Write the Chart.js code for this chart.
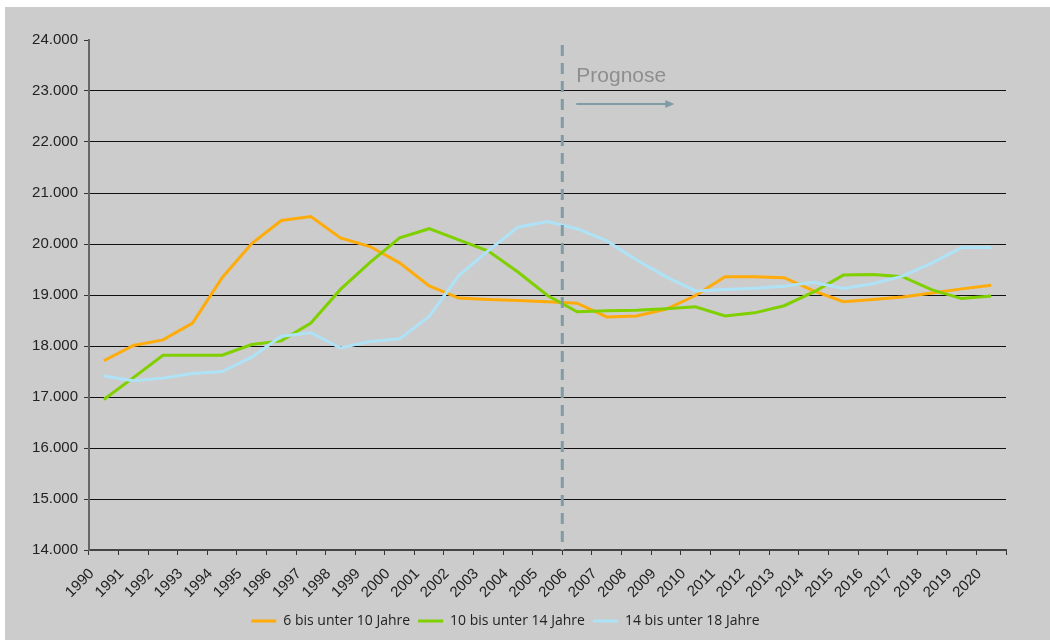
<!DOCTYPE html>
<html lang="de">

<head>
    <meta charset="UTF-8">
    <title>Bevölkerung 6 bis unter 18 Jahre - Prognose</title>
    <style>
        html, body { margin: 0; padding: 0; background: #ffffff; }
        .chart-box {
            position: absolute;
            left: 5px;
            top: 7px;
            width: 1045px;
            height: 633px;
            background: #cccccc;
        }
    </style>
</head>

<body>
    <div class="chart-box">
        <canvas id="myChart" width="1045" height="633"></canvas>
    </div>

    <script src="https://cdn.jsdelivr.net/npm/chart.js"></script>

    <script>
        var years = ["1990", "1991", "1992", "1993", "1994", "1995", "1996", "1997", "1998", "1999",
            "2000", "2001", "2002", "2003", "2004", "2005", "2006", "2007", "2008", "2009",
            "2010", "2011", "2012", "2013", "2014", "2015", "2016", "2017", "2018", "2019", "2020"];

        var age6to10 = [17710, 18010, 18120, 18450, 19340, 20010, 20460, 20540, 20120, 19950,
            19630, 19180, 18940, 18910, 18890, 18870, 18840, 18570, 18590, 18720,
            18990, 19360, 19360, 19340, 19080, 18870, 18910, 18960, 19040, 19120, 19190];

        var age10to14 = [16950, 17380, 17820, 17820, 17820, 18030, 18100, 18450, 19110, 19640,
            20120, 20300, 20080, 19860, 19450, 18990, 18670, 18690, 18700, 18730,
            18770, 18590, 18650, 18790, 19060, 19390, 19400, 19360, 19100, 18930, 18980];

        var age14to18 = [17410, 17320, 17370, 17460, 17500, 17780, 18190, 18260, 17960, 18090,
            18140, 18580, 19380, 19870, 20330, 20440, 20300, 20060, 19690, 19360,
            19080, 19110, 19130, 19170, 19250, 19130, 19220, 19370, 19630, 19930, 19930];

        var seriesNames = ["6 bis unter 10 Jahre", "10 bis unter 14 Jahre", "14 bis unter 18 Jahre"];
        var seriesColors = ["#ffab0a", "#80d000", "#aee3f7"];

        var prognoseYear = "2006";
        var prognoseText = "Prognose";

        // dashed divider, label and arrow for the forecast part
        var prognosePlugin = {
            id: "prognose",
            afterDatasetsDraw: function (chart) {
                var ctx = chart.ctx;
                var xs = chart.scales.x;
                var area = chart.chartArea;
                var band = xs.getPixelForValue(1) - xs.getPixelForValue(0);
                var x = xs.getPixelForValue(years.indexOf(prognoseYear)) - band / 2;

                ctx.save();
                ctx.strokeStyle = "#7e9da5";
                ctx.lineWidth = 3;
                ctx.setLineDash([11, 7]);
                ctx.beginPath();
                ctx.moveTo(x, area.top + 5);
                ctx.lineTo(x, area.bottom);
                ctx.stroke();

                ctx.setLineDash([]);
                ctx.fillStyle = "#8e8e8e";
                ctx.font = "21px 'Liberation Sans', Arial, sans-serif";
                ctx.textAlign = "left";
                ctx.textBaseline = "alphabetic";
                ctx.fillText(prognoseText, x + 14, area.top + 42);

                var ay = area.top + 64;
                ctx.strokeStyle = "#7e9da5";
                ctx.fillStyle = "#7e9da5";
                ctx.lineWidth = 2;
                ctx.beginPath();
                ctx.moveTo(x + 14, ay);
                ctx.lineTo(x + 104, ay);
                ctx.stroke();
                ctx.beginPath();
                ctx.moveTo(x + 112, ay);
                ctx.lineTo(x + 103, ay - 4);
                ctx.lineTo(x + 103, ay + 4);
                ctx.closePath();
                ctx.fill();
                ctx.restore();
            }
        };

        function makeDataset(i, values) {
            return {
                label: seriesNames[i],
                data: values,
                borderColor: seriesColors[i],
                backgroundColor: seriesColors[i],
                borderWidth: 3,
                pointRadius: 0,
                tension: 0,
                order: 3 - i
            };
        }

        function createChart() {
            var ctx = document.getElementById("myChart").getContext("2d");
            new Chart(ctx, {
                type: "line",
                data: {
                    labels: years,
                    datasets: [
                        makeDataset(0, age6to10),
                        makeDataset(1, age10to14),
                        makeDataset(2, age14to18)
                    ]
                },
                options: {
                    responsive: false,
                    animation: false,
                    layout: {
                        padding: { top: 33, right: 44, bottom: 2, left: 0 }
                    },
                    plugins: {
                        tooltip: { enabled: false },
                        legend: {
                            position: "bottom",
                            labels: {
                                usePointStyle: true,
                                pointStyle: "line",
                                pointStyleWidth: 25,
                                padding: 8,
                                color: "#222222",
                                font: { family: "'Open Sans', sans-serif", size: 14 },
                                sort: function (a, b) { return a.datasetIndex - b.datasetIndex; }
                            }
                        }
                    },
                    scales: {
                        x: {
                            offset: true,
                            afterFit: function (scale) { scale.height = 56; },
                            border: { color: "#444444", width: 2 },
                            grid: {
                                offset: true,
                                drawOnChartArea: false,
                                tickLength: 5,
                                tickColor: "#333333"
                            },
                            ticks: {
                                autoSkip: false,
                                minRotation: 45,
                                maxRotation: 45,
                                labelOffset: -12,
                                padding: 10,
                                color: "#222222",
                                font: { family: "'Liberation Sans', Arial, sans-serif", size: 15 }
                            }
                        },
                        y: {
                            min: 14000,
                            max: 24000,
                            afterFit: function (scale) { scale.width = 84; },
                            border: { color: "#666666", width: 2 },
                            grid: {
                                color: function (c) {
                                    return c.tick && c.tick.value === 24000 ? "rgba(0,0,0,0)" : "#111111";
                                },
                                lineWidth: 1,
                                tickLength: 5,
                                tickColor: "#333333"
                            },
                            ticks: {
                                stepSize: 1000,
                                padding: 6,
                                color: "#222222",
                                font: { family: "'Liberation Sans', Arial, sans-serif", size: 15 },
                                callback: function (v) { return v.toLocaleString("de-DE"); }
                            }
                        }
                    }
                },
                plugins: [prognosePlugin]
            });
        }

        createChart();
    </script>
</body>

</html>
